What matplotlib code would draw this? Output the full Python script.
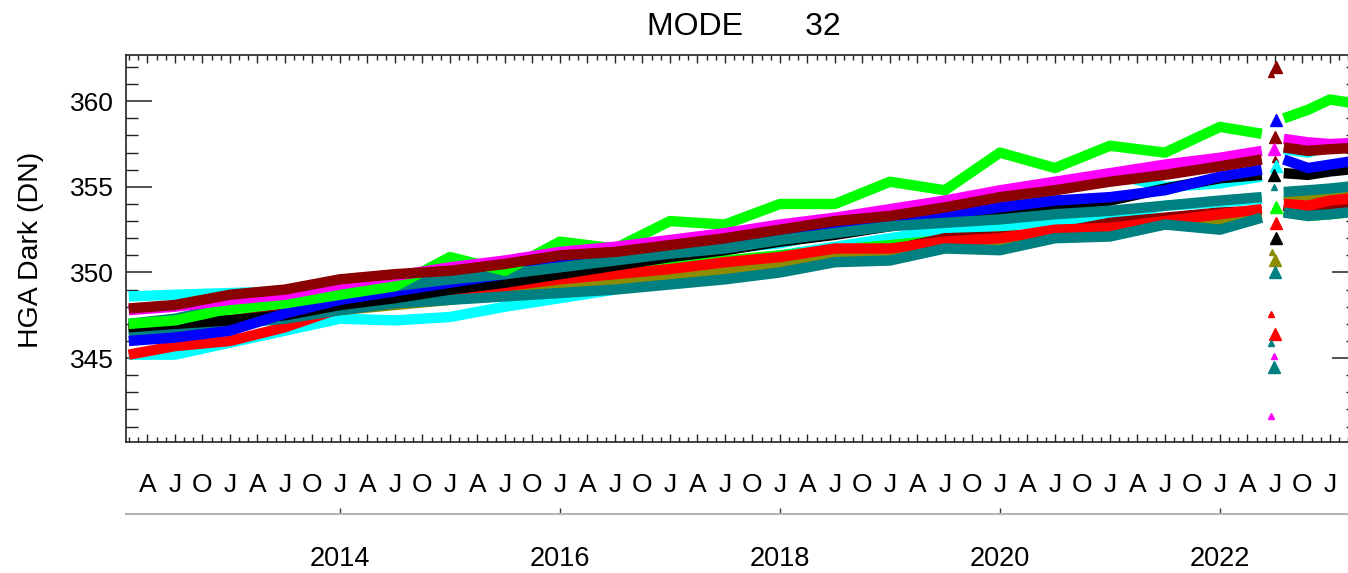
import numpy as np
import matplotlib
matplotlib.use("Agg")
import matplotlib.pyplot as plt
from matplotlib.ticker import FixedLocator, FixedFormatter, NullFormatter

plt.rcParams['font.family'] = ['Liberation Sans', 'DejaVu Sans']

nan = np.nan

# ---------------- data ----------------
YEARS = [2012.08, 2012.5, 2013.0, 2013.5, 2014.0, 2014.5, 2015.0, 2015.5, 2016.0,
         2016.5, 2017.0, 2017.5, 2018.0, 2018.5, 2019.0, 2019.5, 2020.0, 2020.5,
         2021.0, 2021.5, 2022.0, 2022.38, 2022.48, 2022.58, 2022.8, 2023.0, 2023.3]

cyan_lo = [345.2, 345.2, 345.9, 346.6, 347.3, 347.2, 347.4, 348.0, 348.5, 349.0, 350.5, 350.6, 351.0,
           351.5, 352.0, 352.5, 352.7, 353.0, 353.2, 353.9, 354.1, 354.3, nan, 354.6, 354.5, 354.6, 354.9]
green_lo = [346.8, 347.0, 347.3, 347.6, 348.1, 348.5, 348.9, 349.3, 349.7, 350.1, 350.4, 350.7, 351.0,
            351.3, 351.6, 351.9, 352.1, 352.3, 352.5, 352.8, 353.0, 353.2, nan, 353.6, 353.3, 353.4, 353.6]
olive = [346.5, 346.8, 347.0, 347.4, 347.8, 348.1, 348.4, 348.8, 349.2, 349.5, 349.7, 350.1, 350.5,
         350.9, 351.1, 351.6, 351.8, 352.2, 352.4, 352.8, 353.1, 353.4, nan, 354.5, 354.4, 354.3, 354.5]
red = [345.2, 345.7, 346.0, 346.8, 347.9, 348.3, 348.8, 349.2, 349.6, 349.9, 350.2, 350.6, 350.9,
       351.4, 351.4, 351.8, 352.0, 352.5, 352.6, 353.0, 353.4, 353.7, nan, 354.0, 353.9, 354.2, 354.4]
maroon_lo = [346.6, 346.8, 347.2, 347.6, 348.0, 348.3, 348.6, 349.0, 349.4, 349.8, 350.1, 350.4, 350.7,
             351.1, 351.3, 352.0, 352.1, 352.3, 352.9, 353.2, 353.5, 353.6, nan, 353.9, 353.6, 353.8, 354.0]
teal_lo = [346.4, 346.6, 347.0, 347.3, 347.8, 348.2, 348.4, 348.6, 348.8, 349.0, 349.3, 349.6, 350.0,
           350.6, 350.7, 351.4, 351.3, 352.0, 352.1, 352.8, 352.5, 353.2, nan, 353.5, 353.3, 353.4, 353.6]
cyan_hi = [348.6, 348.7, 348.8, 348.9, 349.1, 349.4, 349.8, 350.1, 350.5, 351.1, 351.2, 351.4, 351.7,
           352.4, 353.0, 353.7, 354.2, 354.8, 355.8, 355.0, 355.2, 355.6, nan, 357.2, 357.0, 357.4, 357.6]
black = [346.8, 347.0, 347.2, 347.5, 348.1, 348.5, 349.0, 349.4, 349.9, 350.4, 350.9, 351.3, 351.8,
         352.2, 352.7, 353.3, 353.5, 353.9, 354.2, 354.9, 355.5, 355.7, nan, 355.8, 355.7, 355.9, 356.1]
blue = [346.0, 346.2, 346.6, 347.6, 348.4, 348.9, 349.4, 349.9, 350.6, 350.9, 351.4, 351.8, 352.3,
        352.8, 353.1, 353.4, 353.8, 354.2, 354.4, 354.8, 355.6, 356.0, nan, 356.6, 356.1, 356.3, 356.6]
teal_hi = [347.0, 347.3, 348.0, 348.3, 348.8, 349.2, 349.6, 349.9, 350.3, 350.7, 351.1, 351.4, 351.9,
           352.3, 352.7, 352.9, 353.1, 353.4, 353.6, 353.9, 354.2, 354.4, nan, 354.7, 354.8, 354.9, 355.1]
green_hi = [347.0, 347.2, 347.9, 348.2, 348.7, 349.2, 350.9, 350.1, 351.8, 351.4, 353.0, 352.8, 354.0,
            354.0, 355.3, 354.8, 357.0, 356.1, 357.4, 357.0, 358.5, 358.1, nan, 359.0, 359.5, 360.1, 359.8]
magenta = [347.8, 348.0, 348.4, 348.7, 349.3, 349.8, 350.3, 350.7, 351.2, 351.5, 351.9, 352.3, 352.8,
           353.2, 353.7, 354.2, 354.8, 355.3, 355.8, 356.3, 356.7, 357.1, nan, 357.8, 357.6, 357.5, 357.6]
maroon_hi = [347.9, 348.1, 348.7, 349.0, 349.6, 349.9, 350.1, 350.5, 351.0, 351.2, 351.6, 352.0, 352.5,
             353.0, 353.3, 353.8, 354.4, 354.8, 355.3, 355.7, 356.2, 356.6, nan, 357.3, 357.1, 357.2, 357.3]

# isolated points in the 2022 data gap
OUT_YEARS = [2022.51, 2022.46, 2022.51, 2022.50, 2022.49, 2022.50, 2022.51, 2022.49, 2022.49, 2022.51,
             2022.51, 2022.51, 2022.47, 2022.50, 2022.50, 2022.46, 2022.50, 2022.46, 2022.49, 2022.49,
             2022.46]
OUT_VALUES = [362.0, 361.6, 358.9, 357.9, 357.2, 356.6, 356.2, 355.7, 355.0, 353.8,
              352.9, 352.0, 351.2, 350.7, 350.0, 347.6, 346.4, 345.9, 345.1, 344.5,
              341.6]
OUT_SERIES = ['maroon', 'maroon', 'blue', 'maroon', 'magenta', 'maroon', 'cyan', 'black', 'teal', 'green',
              'red', 'black', 'olive', 'olive', 'teal', 'red', 'red', 'teal', 'magenta', 'teal',
              'magenta']

MONTH_LETTERS = ['J', 'A', 'J', 'O']
YEAR_TICKS = [2014, 2016, 2018, 2020, 2022]
YEAR_LABELS = ['2014', '2016', '2018', '2020', '2022']
TITLE = 'MODE       32'
YLABEL = 'HGA Dark (DN)'

# ---------------- styles ----------------
COLORS = {'black': '#000000', 'red': '#ff0000', 'green': '#00ff00', 'blue': '#0000ff',
          'cyan': '#00ffff', 'magenta': '#ff00ff', 'maroon': '#8b0000', 'olive': '#8c8c00',
          'teal': '#008080'}
SERIES = [(cyan_lo, 'cyan'), (green_lo, 'green'), (maroon_lo, 'maroon'), (olive, 'olive'),
          (red, 'red'), (teal_lo, 'teal'), (cyan_hi, 'cyan'), (black, 'black'),
          (blue, 'blue'), (teal_hi, 'teal'), (green_hi, 'green'), (magenta, 'magenta'),
          (maroon_hi, 'maroon')]
OUT_BIG = [1, 0, 1, 1, 1, 0, 1, 1, 0, 1, 1, 1, 0, 1, 1, 0, 1, 0, 0, 1, 0]

W, H = 1348, 573
fig = plt.figure(figsize=(W / 100, H / 100), dpi=100)


def fx(px):
    return px / W


def fy(py):
    return 1 - py / H


AX_L, AX_R, AX_T, AX_B = 126, 1358, 55, 442
ax = fig.add_axes([fx(AX_L), fy(AX_B), fx(AX_R) - fx(AX_L), fy(AX_T) - fy(AX_B)])

x = np.array(YEARS)
for vals, cname in SERIES:
    ax.plot(x, np.array(vals, dtype=float), color=COLORS[cname], lw=7.5,
            solid_capstyle='butt', solid_joinstyle='round', zorder=2)

for xv, yv, cname, big in zip(OUT_YEARS, OUT_VALUES, OUT_SERIES, OUT_BIG):
    ax.plot([xv], [yv], marker='^', ms=9 if big else 4, color=COLORS[cname],
            mec=COLORS[cname], ls='none', zorder=3)

XMIN, XMAX = 2012.055, 2023.255
ax.set_xlim(XMIN, XMAX)
ax.set_ylim(340.1, 362.7)

frame_c = '#222222'
for s in ax.spines.values():
    s.set_color(frame_c)
    s.set_linewidth(1.2)

# y axis
ax.yaxis.set_major_locator(FixedLocator([345, 350, 355, 360]))
ax.yaxis.set_minor_locator(FixedLocator([v for v in range(341, 363) if v % 5]))
ax.tick_params(axis='y', which='major', direction='in', length=18.5, width=1.1,
               color=frame_c, left=True, right=True, labelsize=19, pad=9)
ax.tick_params(axis='y', which='minor', direction='in', length=8.5, width=1.0,
               color=frame_c, left=True, right=True)

# x axis: months (labels only up to the last visible quarter)
month_minor = []
quarter_major = []
quarter_labels = []
for yr in range(2012, 2024):
    for m in range(12):
        pos = yr + m / 12.0
        if pos < XMIN or pos > XMAX:
            continue
        if m % 3 == 0:
            if pos <= 2023.01:
                quarter_major.append(pos)
                quarter_labels.append(MONTH_LETTERS[m // 3])
            else:
                month_minor.append(pos)
        else:
            month_minor.append(pos)
ax.xaxis.set_major_locator(FixedLocator(quarter_major))
ax.xaxis.set_major_formatter(FixedFormatter(quarter_labels))
ax.xaxis.set_minor_locator(FixedLocator(month_minor))
ax.xaxis.set_minor_formatter(NullFormatter())
ax.tick_params(axis='x', which='major', direction='in', length=6, width=1.0,
               color=frame_c, top=True, bottom=True, labelsize=19, pad=22)
ax.tick_params(axis='x', which='minor', direction='in', length=3.5, width=1.0,
               color=frame_c, top=True, bottom=True)

# year axis below
ax2 = fig.add_axes([fx(AX_L), fy(514), fx(AX_R) - fx(AX_L), 0.0005])
ax2.patch.set_visible(False)
for side in ('top', 'left', 'right'):
    ax2.spines[side].set_visible(False)
ax2.spines['bottom'].set_color('#b5b5b5')
ax2.spines['bottom'].set_linewidth(1.5)
ax2.set_xlim(XMIN, XMAX)
ax2.set_yticks([])
ax2.set_xticks(YEAR_TICKS)
ax2.set_xticklabels(YEAR_LABELS)
ax2.tick_params(axis='x', direction='in', length=4, width=1.0, color='#333333',
                labelsize=19.5, pad=23)

fig.text(fx(744), fy(35), TITLE, ha='center', va='baseline', fontsize=23)
fig.text(fx(31), fy(250), YLABEL, rotation=90, ha='center', va='center', fontsize=20.5)

fig.savefig('out.png', dpi=100)
